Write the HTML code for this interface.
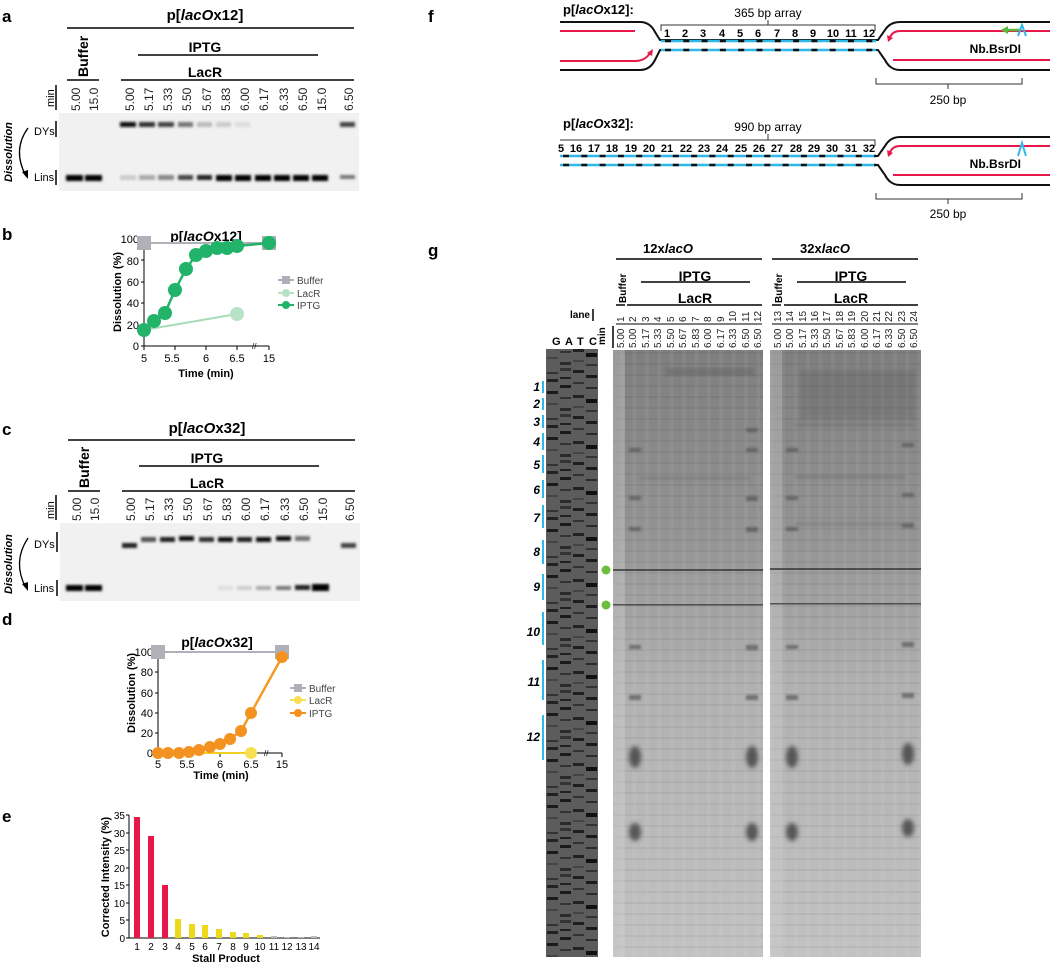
<!DOCTYPE html>
<html><head><meta charset="utf-8"><style>
html,body{margin:0;padding:0;background:#fff;}
svg{display:block;font-family:"Liberation Sans",Arial,sans-serif;}
.b{font-weight:bold}
</style></head><body>
<svg width="1050" height="965" viewBox="0 0 1050 965" xmlns="http://www.w3.org/2000/svg">
<defs>
<linearGradient id="gg" x1="0" y1="0" x2="0" y2="1">
<stop offset="0" stop-color="#7e7e7e"/><stop offset="0.3" stop-color="#939393"/><stop offset="0.55" stop-color="#b0b0b0"/><stop offset="1" stop-color="#c2c2c2"/></linearGradient>
<pattern id="hl" width="12" height="11" patternUnits="userSpaceOnUse"><rect width="12" height="2" fill="#000" opacity="0.05"/></pattern>
<pattern id="vl" width="12.4" height="10" patternUnits="userSpaceOnUse"><rect width="4" height="10" fill="#fff" opacity="0.05"/></pattern>
<pattern id="seq" width="52" height="46" patternUnits="userSpaceOnUse"><rect width="52" height="46" fill="#5c5c5c"/>
<rect x="1" y="2" width="11" height="3" fill="#1e1e1e"/><rect x="1" y="14" width="11" height="2" fill="#333"/><rect x="1" y="27" width="11" height="3" fill="#222"/><rect x="1" y="38" width="11" height="2" fill="#444"/>
<rect x="14" y="7" width="11" height="3" fill="#1a1a1a"/><rect x="14" y="19" width="11" height="2" fill="#2a2a2a"/><rect x="14" y="31" width="11" height="4" fill="#111"/><rect x="14" y="42" width="11" height="2" fill="#333"/>
<rect x="27" y="4" width="11" height="2" fill="#333"/><rect x="27" y="11" width="11" height="3" fill="#222"/><rect x="27" y="23" width="11" height="3" fill="#1a1a1a"/><rect x="27" y="35" width="11" height="2" fill="#444"/>
<rect x="40" y="0" width="11" height="3" fill="#333"/><rect x="40" y="9" width="11" height="2" fill="#222"/><rect x="40" y="17" width="11" height="3" fill="#1a1a1a"/><rect x="40" y="29" width="11" height="2" fill="#333"/><rect x="40" y="40" width="11" height="3" fill="#2a2a2a"/>
</pattern>
<filter id="bl"><feGaussianBlur stdDeviation="1.2"/></filter>
<filter id="bl2"><feGaussianBlur stdDeviation="2.5"/></filter>
</defs>

<!-- ===== panel a ===== -->
<text x="2" y="22" font-size="17" class="b">a</text>
<text x="205" y="20" font-size="15" class="b" text-anchor="middle">p[<tspan font-style="italic">lacO</tspan>x12]</text>
<line x1="67" y1="28" x2="354" y2="28" stroke="#000" stroke-width="1.5"/>
<text transform="translate(88,77) rotate(-90)" font-size="14" class="b">Buffer</text>
<line x1="67" y1="80" x2="99" y2="80" stroke="#000" stroke-width="1.5"/>
<text x="205" y="52" font-size="14" class="b" text-anchor="middle">IPTG</text>
<line x1="138" y1="55" x2="318" y2="55" stroke="#000" stroke-width="1.5"/>
<text x="205" y="77" font-size="14" class="b" text-anchor="middle">LacR</text>
<line x1="121" y1="80" x2="354" y2="80" stroke="#000" stroke-width="1.5"/>
<text transform="translate(54,107) rotate(-90)" font-size="11">min</text>
<line x1="56" y1="85" x2="56" y2="110" stroke="#000" stroke-width="1.5"/>
<g font-size="12" fill="#222">
<text transform="translate(80,111) rotate(-90)">5.00</text><text transform="translate(98,111) rotate(-90)">15.0</text>
<text transform="translate(134,111) rotate(-90)">5.00</text><text transform="translate(153,111) rotate(-90)">5.17</text><text transform="translate(172,111) rotate(-90)">5.33</text><text transform="translate(191,111) rotate(-90)">5.50</text><text transform="translate(211,111) rotate(-90)">5.67</text><text transform="translate(230,111) rotate(-90)">5.83</text><text transform="translate(249,111) rotate(-90)">6.00</text><text transform="translate(268,111) rotate(-90)">6.17</text><text transform="translate(288,111) rotate(-90)">6.33</text><text transform="translate(307,111) rotate(-90)">6.50</text><text transform="translate(326,111) rotate(-90)">15.0</text><text transform="translate(353,111) rotate(-90)">6.50</text>
</g>
<rect x="59" y="113" width="300" height="78" fill="#f1f1f1"/>
<g filter="url(#bl)">
<rect x="120" y="122" width="16" height="5" fill="#111"/><rect x="139" y="122" width="16" height="5" fill="#333"/><rect x="158" y="122" width="16" height="5" fill="#444"/><rect x="178" y="122" width="15" height="5" fill="#777"/><rect x="197" y="122" width="15" height="5" fill="#bbb"/><rect x="216" y="122" width="15" height="5" fill="#ccc"/><rect x="235" y="122" width="15" height="5" fill="#ddd"/><rect x="340" y="122" width="15" height="5" fill="#444"/>
<rect x="66" y="175" width="17" height="6" fill="#000"/><rect x="85" y="175" width="17" height="6" fill="#000"/>
<rect x="120" y="175" width="16" height="5" fill="#ccc"/><rect x="139" y="175" width="16" height="5" fill="#aaa"/><rect x="158" y="175" width="16" height="5" fill="#888"/><rect x="178" y="175" width="15" height="5" fill="#444"/><rect x="197" y="175" width="15" height="5" fill="#222"/><rect x="216" y="175" width="16" height="6" fill="#000"/><rect x="235" y="175" width="16" height="6" fill="#000"/><rect x="255" y="175" width="16" height="6" fill="#000"/><rect x="274" y="175" width="16" height="6" fill="#000"/><rect x="293" y="175" width="16" height="6" fill="#000"/><rect x="312" y="175" width="16" height="6" fill="#000"/><rect x="340" y="175" width="15" height="4" fill="#777"/>
</g>
<text x="34" y="135" font-size="11">DYs</text><line x1="56" y1="121" x2="56" y2="137" stroke="#000" stroke-width="1.5"/>
<text x="34" y="181" font-size="11">Lins</text><line x1="56" y1="170" x2="56" y2="185" stroke="#000" stroke-width="1.5"/>
<text transform="translate(12,182) rotate(-90)" font-size="11" class="b" font-style="italic">Dissolution</text>
<path d="M28,128 Q12,150 26,176" fill="none" stroke="#000" stroke-width="1.3"/><path d="M22,172 L28,179 L28,170 Z"/>

<!-- ===== panel b ===== -->
<text x="2" y="240" font-size="17" class="b">b</text>
<text x="206" y="241" font-size="14" class="b" text-anchor="middle">p[<tspan font-style="italic">lacO</tspan>x12]</text>
<g font-size="11" text-anchor="end"><text x="139" y="243">100</text><text x="139" y="265">80</text><text x="139" y="286">60</text><text x="139" y="307">40</text><text x="139" y="329">20</text><text x="139" y="350">0</text></g>
<text transform="translate(121,332) rotate(-90)" font-size="11" class="b">Dissolution (%)</text>
<path d="M144,239 V346 H269 M141,239H144 M141,260H144 M141,282H144 M141,303H144 M141,325H144 M141,346H144 M144,346v4 M175,346v4 M206,346v4 M237,346v4 M269,346v4" fill="none" stroke="#000" stroke-width="1"/>
<text x="252" y="349" font-size="8">//</text>
<g font-size="11" text-anchor="middle"><text x="144" y="362">5</text><text x="172" y="362">5.5</text><text x="206" y="362">6</text><text x="237" y="362">6.5</text><text x="269" y="362">15</text></g>
<text x="206" y="377" font-size="11" class="b" text-anchor="middle">Time (min)</text>
<line x1="144" y1="243" x2="269" y2="243" stroke="#b0b0b8" stroke-width="2"/>
<rect x="137" y="236" width="14" height="14" fill="#b0b0b8"/><rect x="262" y="236" width="14" height="14" fill="#b0b0b8"/>
<line x1="144" y1="330" x2="237" y2="314" stroke="#a8dcb8" stroke-width="2"/><circle cx="237" cy="314" r="7" fill="#b8e2c5"/>
<polyline points="144,330 154,321 165,313 175,290 186,269 196,255 206,251 217,248 227,248 237,246 269,243" fill="none" stroke="#22b36a" stroke-width="2.5"/>
<g fill="#22b36a"><circle cx="144" cy="330" r="7"/><circle cx="154" cy="321" r="7"/><circle cx="165" cy="313" r="7"/><circle cx="175" cy="290" r="7"/><circle cx="186" cy="269" r="7"/><circle cx="196" cy="255" r="7"/><circle cx="206" cy="251" r="7"/><circle cx="217" cy="248" r="7"/><circle cx="227" cy="248" r="7"/><circle cx="237" cy="246" r="7"/><circle cx="269" cy="243" r="7"/></g>
<g font-size="10" fill="#444"><line x1="278" y1="280" x2="294" y2="280" stroke="#b0b0b8" stroke-width="2"/><rect x="282" y="276" width="8" height="8" fill="#b0b0b8"/><text x="297" y="284">Buffer</text>
<line x1="278" y1="293" x2="294" y2="293" stroke="#b8e2c5" stroke-width="2"/><circle cx="286" cy="293" r="4" fill="#b8e2c5"/><text x="297" y="297">LacR</text>
<line x1="278" y1="305" x2="294" y2="305" stroke="#22b36a" stroke-width="2"/><circle cx="286" cy="305" r="4" fill="#22b36a"/><text x="297" y="309">IPTG</text></g>

<!-- ===== panel c ===== -->
<text x="2" y="435" font-size="17" class="b">c</text>
<text x="207" y="433" font-size="15" class="b" text-anchor="middle">p[<tspan font-style="italic">lacO</tspan>x32]</text>
<line x1="68" y1="440" x2="355" y2="440" stroke="#000" stroke-width="1.5"/>
<text transform="translate(89,488) rotate(-90)" font-size="14" class="b">Buffer</text>
<line x1="68" y1="491" x2="100" y2="491" stroke="#000" stroke-width="1.5"/>
<text x="207" y="463" font-size="14" class="b" text-anchor="middle">IPTG</text>
<line x1="139" y1="466" x2="319" y2="466" stroke="#000" stroke-width="1.5"/>
<text x="207" y="488" font-size="14" class="b" text-anchor="middle">LacR</text>
<line x1="122" y1="491" x2="355" y2="491" stroke="#000" stroke-width="1.5"/>
<text transform="translate(54,519) rotate(-90)" font-size="11">min</text>
<line x1="56" y1="495" x2="56" y2="520" stroke="#000" stroke-width="1.5"/>
<g font-size="12" fill="#222">
<text transform="translate(81,521) rotate(-90)">5.00</text><text transform="translate(99,521) rotate(-90)">15.0</text>
<text transform="translate(135,521) rotate(-90)">5.00</text><text transform="translate(154,521) rotate(-90)">5.17</text><text transform="translate(173,521) rotate(-90)">5.33</text><text transform="translate(192,521) rotate(-90)">5.50</text><text transform="translate(212,521) rotate(-90)">5.67</text><text transform="translate(231,521) rotate(-90)">5.83</text><text transform="translate(250,521) rotate(-90)">6.00</text><text transform="translate(269,521) rotate(-90)">6.17</text><text transform="translate(289,521) rotate(-90)">6.33</text><text transform="translate(308,521) rotate(-90)">6.50</text><text transform="translate(327,521) rotate(-90)">15.0</text><text transform="translate(354,521) rotate(-90)">6.50</text>
</g>
<rect x="60" y="523" width="300" height="78" fill="#f1f1f1"/>
<g filter="url(#bl)">
<rect x="122" y="543" width="15" height="5" fill="#222"/><rect x="141" y="537" width="15" height="5" fill="#555"/><rect x="160" y="537" width="15" height="5" fill="#222"/><rect x="179" y="536" width="15" height="5" fill="#111"/><rect x="199" y="537" width="15" height="5" fill="#333"/><rect x="218" y="537" width="15" height="5" fill="#111"/><rect x="237" y="537" width="15" height="5" fill="#222"/><rect x="256" y="537" width="15" height="5" fill="#111"/><rect x="276" y="536" width="15" height="5" fill="#111"/><rect x="295" y="536" width="15" height="5" fill="#777"/><rect x="341" y="543" width="15" height="5" fill="#444"/>
<rect x="66" y="585" width="17" height="6" fill="#000"/><rect x="85" y="585" width="17" height="6" fill="#000"/>
<rect x="218" y="586" width="15" height="4" fill="#ddd"/><rect x="237" y="586" width="15" height="4" fill="#ccc"/><rect x="256" y="586" width="15" height="4" fill="#aaa"/><rect x="276" y="586" width="15" height="4" fill="#777"/><rect x="295" y="585" width="15" height="5" fill="#222"/><rect x="312" y="584" width="17" height="7" fill="#000"/>
</g>
<text x="34" y="548" font-size="11">DYs</text><line x1="57" y1="532" x2="57" y2="552" stroke="#000" stroke-width="1.5"/>
<text x="34" y="592" font-size="11">Lins</text><line x1="57" y1="580" x2="57" y2="596" stroke="#000" stroke-width="1.5"/>
<text transform="translate(12,594) rotate(-90)" font-size="11" class="b" font-style="italic">Dissolution</text>
<path d="M28,538 Q12,562 26,588" fill="none" stroke="#000" stroke-width="1.3"/><path d="M22,584 L28,591 L28,582 Z"/>

<!-- ===== panel d ===== -->
<text x="2" y="625" font-size="17" class="b">d</text>
<text x="217" y="647" font-size="14" class="b" text-anchor="middle">p[<tspan font-style="italic">lacO</tspan>x32]</text>
<g font-size="11" text-anchor="end"><text x="153" y="656">100</text><text x="153" y="676">80</text><text x="153" y="697">60</text><text x="153" y="717">40</text><text x="153" y="737">20</text><text x="153" y="757">0</text></g>
<text transform="translate(135,733) rotate(-90)" font-size="11" class="b">Dissolution (%)</text>
<path d="M158,652 V753 H282 M155,652H158 M155,672H158 M155,693H158 M155,713H158 M155,733H158 M155,753H158 M158,753v4 M189,753v4 M220,753v4 M251,753v4 M282,753v4" fill="none" stroke="#000" stroke-width="1"/>
<text x="264" y="756" font-size="8">//</text>
<g font-size="11" text-anchor="middle"><text x="158" y="768">5</text><text x="187" y="768">5.5</text><text x="220" y="768">6</text><text x="251" y="768">6.5</text><text x="282" y="768">15</text></g>
<text x="221" y="779" font-size="11" class="b" text-anchor="middle">Time (min)</text>
<line x1="158" y1="652" x2="282" y2="652" stroke="#b0b0b8" stroke-width="2"/>
<rect x="151" y="645" width="14" height="14" fill="#b0b0b8"/><rect x="275" y="645" width="14" height="14" fill="#b0b0b8"/>
<line x1="158" y1="753" x2="251" y2="753" stroke="#f0d020" stroke-width="2"/><circle cx="251" cy="753" r="6" fill="#f8de50"/>
<polyline points="158,753 168,753 179,753 189,752 199,750 210,747 220,744 230,739 241,731 251,713 282,657" fill="none" stroke="#f59a22" stroke-width="2.5"/>
<g fill="#f39221"><circle cx="158" cy="753" r="6"/><circle cx="168" cy="753" r="6"/><circle cx="179" cy="753" r="6"/><circle cx="189" cy="752" r="6"/><circle cx="199" cy="750" r="6"/><circle cx="210" cy="747" r="6"/><circle cx="220" cy="744" r="6"/><circle cx="230" cy="739" r="6"/><circle cx="241" cy="731" r="6"/><circle cx="251" cy="713" r="6"/><circle cx="282" cy="657" r="6"/></g>
<g font-size="10" fill="#444"><line x1="290" y1="688" x2="306" y2="688" stroke="#b0b0b8" stroke-width="2"/><rect x="294" y="684" width="8" height="8" fill="#b0b0b8"/><text x="309" y="692">Buffer</text>
<line x1="290" y1="700" x2="306" y2="700" stroke="#f8de50" stroke-width="2"/><circle cx="298" cy="700" r="4" fill="#f8de50"/><text x="309" y="704">LacR</text>
<line x1="290" y1="713" x2="306" y2="713" stroke="#f39221" stroke-width="2"/><circle cx="298" cy="713" r="4" fill="#f39221"/><text x="309" y="717">IPTG</text></g>

<!-- ===== panel e ===== -->
<text x="2" y="822" font-size="17" class="b">e</text>
<text transform="translate(109,877) rotate(-90)" font-size="11" class="b" text-anchor="middle">Corrected Intensity (%)</text>
<g font-size="10" text-anchor="end"><text x="125" y="819">35</text><text x="125" y="837">30</text><text x="125" y="854">25</text><text x="125" y="872">20</text><text x="125" y="889">15</text><text x="125" y="907">10</text><text x="125" y="924">5</text><text x="125" y="942">0</text></g>
<path d="M129,815 V938 H320 M126,815H129 M126,833H129 M126,850H129 M126,868H129 M126,885H129 M126,903H129 M126,920H129 M126,938H129" fill="none" stroke="#000"/>
<g fill="#e8174a"><rect x="134" y="817" width="6" height="121"/><rect x="148" y="836" width="6" height="102"/><rect x="162" y="885" width="6" height="53"/></g>
<g fill="#ecd91c"><rect x="175" y="919" width="6" height="19"/><rect x="189" y="924" width="6" height="14"/><rect x="202" y="925" width="6" height="13"/><rect x="216" y="929" width="6" height="9"/><rect x="230" y="932" width="6" height="6"/><rect x="243" y="933" width="6" height="5"/><rect x="257" y="935" width="6" height="3"/></g>
<g fill="#bbb"><rect x="271" y="936" width="6" height="2"/><rect x="284" y="937" width="6" height="1"/><rect x="298" y="937" width="6" height="1"/><rect x="311" y="936" width="6" height="2"/></g>
<g font-size="10" text-anchor="middle"><text x="137" y="950">1</text><text x="151" y="950">2</text><text x="165" y="950">3</text><text x="178" y="950">4</text><text x="192" y="950">5</text><text x="205" y="950">6</text><text x="219" y="950">7</text><text x="233" y="950">8</text><text x="246" y="950">9</text><text x="260" y="950">10</text><text x="274" y="950">11</text><text x="287" y="950">12</text><text x="301" y="950">13</text><text x="314" y="950">14</text></g>
<text x="226" y="962" font-size="11" class="b" text-anchor="middle">Stall Product</text>

<!-- ===== panel f ===== -->
<text x="428" y="22" font-size="17" class="b">f</text>
<text x="563" y="14" font-size="13" class="b">p[<tspan font-style="italic">lacO</tspan>x12]:</text>
<text x="768" y="17" font-size="12" text-anchor="middle">365 bp array</text>
<path d="M661,31 V25 H875 V31 M768,25 V20" fill="none" stroke="#333"/>
<path d="M560,22 H640 Q650,22 655,32 L660,40 H878 L885,30 Q890,22 900,22 H1050" fill="none" stroke="#111" stroke-width="2"/>
<path d="M560,70 H640 Q650,70 655,60 L660,50 H878 L885,60 Q890,70 900,70 H1050" fill="none" stroke="#111" stroke-width="2"/>
<line x1="661" y1="41" x2="876" y2="41" stroke="#2fb8e8" stroke-width="2.5"/><line x1="661" y1="50" x2="876" y2="50" stroke="#2fb8e8" stroke-width="2.5"/>
<line x1="665" y1="41" x2="876" y2="41" stroke="#111" stroke-width="2.5" stroke-dasharray="6,12.3"/><line x1="665" y1="50" x2="876" y2="50" stroke="#111" stroke-width="2.5" stroke-dasharray="6,12.3"/>
<g font-size="11" class="b" text-anchor="middle"><text x="667" y="37">1</text><text x="685" y="37">2</text><text x="703" y="37">3</text><text x="722" y="37">4</text><text x="740" y="37">5</text><text x="758" y="37">6</text><text x="777" y="37">7</text><text x="795" y="37">8</text><text x="813" y="37">9</text><text x="833" y="37">10</text><text x="851" y="37">11</text><text x="869" y="37">12</text></g>
<path d="M560,31 H635" stroke="#e8194a" stroke-width="2" fill="none"/>
<path d="M560,61 H635 Q645,61 650,53" stroke="#e8194a" stroke-width="2" fill="none"/><path d="M647,53 L653,49 L652,56Z" fill="#e8194a"/>
<path d="M1050,31 H900 Q893,31 890,37" stroke="#e8194a" stroke-width="2" fill="none"/><path d="M887,35 L888,42 L893,38Z" fill="#e8194a"/>
<path d="M1050,60 H893" stroke="#e8194a" stroke-width="2" fill="none"/>
<path d="M1020,30 H1004" stroke="#5bb83a" stroke-width="2.5"/><path d="M1001,30 L1008,26 L1008,34Z" fill="#5bb83a"/>
<path d="M1018,36 L1022,25 L1026,36" fill="none" stroke="#2fb8e8" stroke-width="2"/>
<text x="1021" y="53" font-size="12" class="b" text-anchor="end">Nb.BsrDI</text>
<path d="M876,78 V84 H1022 V78 M948,84 V89" fill="none" stroke="#333"/>
<text x="948" y="104" font-size="12" text-anchor="middle">250 bp</text>

<text x="563" y="128" font-size="13" class="b">p[<tspan font-style="italic">lacO</tspan>x32]:</text>
<text x="768" y="131" font-size="12" text-anchor="middle">990 bp array</text>
<path d="M560,140 H875 V146 M768,140 V134" fill="none" stroke="#333"/>
<path d="M560,156 H878 L885,146 Q890,137 900,137 H1050" fill="none" stroke="#111" stroke-width="2"/>
<path d="M560,165 H878 L885,175 Q890,185 900,185 H1050" fill="none" stroke="#111" stroke-width="2"/>
<line x1="560" y1="156" x2="876" y2="156" stroke="#2fb8e8" stroke-width="2.5"/><line x1="560" y1="165" x2="876" y2="165" stroke="#2fb8e8" stroke-width="2.5"/>
<line x1="563" y1="156" x2="876" y2="156" stroke="#111" stroke-width="2.5" stroke-dasharray="6,12.3"/><line x1="563" y1="165" x2="876" y2="165" stroke="#111" stroke-width="2.5" stroke-dasharray="6,12.3"/>
<g font-size="11" class="b" text-anchor="middle"><text x="561" y="152">5</text><text x="576" y="152">16</text><text x="594" y="152">17</text><text x="612" y="152">18</text><text x="631" y="152">19</text><text x="649" y="152">20</text><text x="667" y="152">21</text><text x="686" y="152">22</text><text x="704" y="152">23</text><text x="722" y="152">24</text><text x="741" y="152">25</text><text x="759" y="152">26</text><text x="777" y="152">27</text><text x="796" y="152">28</text><text x="814" y="152">29</text><text x="832" y="152">30</text><text x="851" y="152">31</text><text x="869" y="152">32</text></g>
<path d="M1050,146 H900 Q893,146 890,152" stroke="#e8194a" stroke-width="2" fill="none"/><path d="M887,150 L888,157 L893,153Z" fill="#e8194a"/>
<path d="M1050,175 H893" stroke="#e8194a" stroke-width="2" fill="none"/>
<path d="M1018,156 L1022,143 L1026,156" fill="none" stroke="#2fb8e8" stroke-width="2"/>
<text x="1021" y="168" font-size="12" class="b" text-anchor="end">Nb.BsrDI</text>
<path d="M876,193 V199 H1022 V193 M948,199 V204" fill="none" stroke="#333"/>
<text x="948" y="218" font-size="12" text-anchor="middle">250 bp</text>

<!-- ===== panel g ===== -->
<text x="428" y="256" font-size="17" class="b">g</text>
<text x="668" y="253" font-size="13" class="b" text-anchor="middle">12x<tspan font-style="italic">lacO</tspan></text>
<line x1="616" y1="259" x2="762" y2="259" stroke="#000" stroke-width="1.5"/>
<text x="825" y="253" font-size="13" class="b" text-anchor="middle">32x<tspan font-style="italic">lacO</tspan></text>
<line x1="772" y1="259" x2="918" y2="259" stroke="#000" stroke-width="1.5"/>
<text x="695" y="281" font-size="14" class="b" text-anchor="middle">IPTG</text><line x1="641" y1="282" x2="750" y2="282" stroke="#000" stroke-width="1.5"/>
<text x="851" y="281" font-size="14" class="b" text-anchor="middle">IPTG</text><line x1="797" y1="282" x2="906" y2="282" stroke="#000" stroke-width="1.5"/>
<text x="695" y="303" font-size="14" class="b" text-anchor="middle">LacR</text><line x1="627" y1="305" x2="762" y2="305" stroke="#000" stroke-width="1.5"/>
<text x="851" y="303" font-size="14" class="b" text-anchor="middle">LacR</text><line x1="784" y1="305" x2="918" y2="305" stroke="#000" stroke-width="1.5"/>
<text transform="translate(626,303) rotate(-90)" font-size="10" class="b">Buffer</text><line x1="616" y1="305" x2="625" y2="305" stroke="#000" stroke-width="1.5"/>
<text transform="translate(782,303) rotate(-90)" font-size="10" class="b">Buffer</text><line x1="772" y1="305" x2="781" y2="305" stroke="#000" stroke-width="1.5"/>
<text x="590" y="318" font-size="10" class="b" text-anchor="end">lane</text><line x1="593" y1="309" x2="593" y2="321" stroke="#000" stroke-width="1.5"/>
<text transform="translate(605,345) rotate(-90)" font-size="10" class="b">min</text><line x1="613" y1="326" x2="613" y2="348" stroke="#000" stroke-width="1.5"/>
<line x1="616" y1="324" x2="762" y2="324" stroke="#000"/><line x1="772" y1="324" x2="918" y2="324" stroke="#000"/>
<g font-size="10" fill="#222">
<text transform="translate(624,322) rotate(-90)">1</text><text transform="translate(636,322) rotate(-90)">2</text><text transform="translate(649,322) rotate(-90)">3</text><text transform="translate(661,322) rotate(-90)">4</text><text transform="translate(674,322) rotate(-90)">5</text><text transform="translate(686,322) rotate(-90)">6</text><text transform="translate(699,322) rotate(-90)">7</text><text transform="translate(711,322) rotate(-90)">8</text><text transform="translate(724,322) rotate(-90)">9</text><text transform="translate(736,322) rotate(-90)">10</text><text transform="translate(749,322) rotate(-90)">11</text><text transform="translate(761,322) rotate(-90)">12</text>
<text transform="translate(781,322) rotate(-90)">13</text><text transform="translate(793,322) rotate(-90)">14</text><text transform="translate(806,322) rotate(-90)">15</text><text transform="translate(818,322) rotate(-90)">16</text><text transform="translate(830,322) rotate(-90)">17</text><text transform="translate(843,322) rotate(-90)">18</text><text transform="translate(855,322) rotate(-90)">19</text><text transform="translate(868,322) rotate(-90)">20</text><text transform="translate(880,322) rotate(-90)">21</text><text transform="translate(892,322) rotate(-90)">22</text><text transform="translate(905,322) rotate(-90)">23</text><text transform="translate(917,322) rotate(-90)">24</text>
<text transform="translate(624,348) rotate(-90)">5.00</text><text transform="translate(636,348) rotate(-90)">5.00</text><text transform="translate(649,348) rotate(-90)">5.17</text><text transform="translate(661,348) rotate(-90)">5.33</text><text transform="translate(674,348) rotate(-90)">5.50</text><text transform="translate(686,348) rotate(-90)">5.67</text><text transform="translate(699,348) rotate(-90)">5.83</text><text transform="translate(711,348) rotate(-90)">6.00</text><text transform="translate(724,348) rotate(-90)">6.17</text><text transform="translate(736,348) rotate(-90)">6.33</text><text transform="translate(749,348) rotate(-90)">6.50</text><text transform="translate(761,348) rotate(-90)">6.50</text>
<text transform="translate(781,348) rotate(-90)">5.00</text><text transform="translate(793,348) rotate(-90)">5.00</text><text transform="translate(806,348) rotate(-90)">5.17</text><text transform="translate(818,348) rotate(-90)">5.33</text><text transform="translate(830,348) rotate(-90)">5.50</text><text transform="translate(843,348) rotate(-90)">5.67</text><text transform="translate(855,348) rotate(-90)">5.83</text><text transform="translate(868,348) rotate(-90)">6.00</text><text transform="translate(880,348) rotate(-90)">6.17</text><text transform="translate(892,348) rotate(-90)">6.33</text><text transform="translate(905,348) rotate(-90)">6.50</text><text transform="translate(917,348) rotate(-90)">6.50</text>
</g>
<g font-size="11" class="b"><text x="552" y="345">G</text><text x="565" y="345">A</text><text x="577" y="345">T</text><text x="589" y="345">C</text></g>
<!-- sequencing gel -->
<rect x="546" y="349" width="52" height="608" fill="url(#seq)"/>
<!-- run gels -->
<rect x="613" y="350" width="150" height="607" fill="url(#gg)"/>
<rect x="613" y="350" width="150" height="607" fill="url(#hl)"/>
<rect x="613" y="350" width="150" height="607" fill="url(#vl)"/>
<rect x="770" y="350" width="151" height="607" fill="url(#gg)"/>
<rect x="770" y="350" width="151" height="607" fill="url(#hl)"/>
<rect x="770" y="350" width="151" height="607" fill="url(#vl)"/>
<g opacity="0.35"><rect x="613" y="350" width="12" height="607" fill="#d0d0d0"/><rect x="770" y="350" width="12" height="607" fill="#d0d0d0"/></g>
<g fill="#333" opacity="0.75"><rect x="613" y="569" width="150" height="2"/><rect x="770" y="568" width="151" height="2"/><rect x="613" y="604" width="150" height="1.5"/><rect x="770" y="603" width="151" height="1.5"/></g>
<g fill="#444" filter="url(#bl2)" opacity="0.85">
<ellipse cx="635" cy="757" rx="6" ry="11"/><ellipse cx="635" cy="832" rx="6" ry="9"/><ellipse cx="752" cy="757" rx="6" ry="11"/><ellipse cx="752" cy="832" rx="6" ry="9"/>
<ellipse cx="792" cy="757" rx="6" ry="11"/><ellipse cx="792" cy="832" rx="6" ry="9"/><ellipse cx="908" cy="754" rx="6" ry="11"/><ellipse cx="908" cy="828" rx="6" ry="9"/>
</g>
<g fill="#555" filter="url(#bl)" opacity="0.7">
<rect x="629" y="645" width="12" height="4"/><rect x="629" y="695" width="12" height="5"/><rect x="629" y="527" width="12" height="4"/><rect x="629" y="496" width="12" height="4"/><rect x="629" y="448" width="12" height="4"/>
<rect x="746" y="645" width="12" height="5"/><rect x="746" y="695" width="12" height="5"/><rect x="746" y="527" width="12" height="5"/><rect x="746" y="496" width="12" height="5"/><rect x="746" y="448" width="12" height="4"/><rect x="746" y="428" width="12" height="4"/>
<rect x="786" y="645" width="12" height="4"/><rect x="786" y="695" width="12" height="5"/><rect x="786" y="527" width="12" height="4"/><rect x="786" y="496" width="12" height="4"/><rect x="786" y="448" width="12" height="4"/>
<rect x="902" y="642" width="12" height="5"/><rect x="902" y="693" width="12" height="5"/><rect x="902" y="523" width="12" height="5"/><rect x="902" y="493" width="12" height="4"/><rect x="902" y="443" width="12" height="4"/>
<rect x="640" y="477" width="110" height="2" opacity="0.5"/><rect x="795" y="476" width="110" height="2" opacity="0.6"/><rect x="795" y="424" width="120" height="2" opacity="0.6"/><rect x="795" y="523" width="110" height="2" opacity="0.5"/>
</g>
<rect x="665" y="368" width="90" height="8" fill="#555" opacity="0.35" filter="url(#bl2)"/>
<rect x="800" y="370" width="115" height="50" fill="#555" opacity="0.25" filter="url(#bl2)"/>
<circle cx="606" cy="570" r="4.5" fill="#6cbf3c"/><circle cx="606" cy="605" r="4.5" fill="#6cbf3c"/>
<g font-size="12" class="b" font-style="italic" text-anchor="end"><text x="540" y="391">1</text><text x="540" y="408">2</text><text x="540" y="426">3</text><text x="540" y="446">4</text><text x="540" y="469">5</text><text x="540" y="494">6</text><text x="540" y="522">7</text><text x="540" y="556">8</text><text x="540" y="591">9</text><text x="540" y="636">10</text><text x="540" y="686">11</text><text x="540" y="741">12</text></g>
<g stroke="#2fb8e8" stroke-width="2"><line x1="543" y1="381" x2="543" y2="393"/><line x1="543" y1="398" x2="543" y2="410"/><line x1="543" y1="415" x2="543" y2="428"/><line x1="543" y1="433" x2="543" y2="450"/><line x1="543" y1="455" x2="543" y2="473"/><line x1="543" y1="480" x2="543" y2="498"/><line x1="543" y1="505" x2="543" y2="528"/><line x1="543" y1="540" x2="543" y2="564"/><line x1="543" y1="574" x2="543" y2="600"/><line x1="543" y1="612" x2="543" y2="645"/><line x1="543" y1="660" x2="543" y2="700"/><line x1="543" y1="715" x2="543" y2="760"/></g>
</svg>
</body></html>
